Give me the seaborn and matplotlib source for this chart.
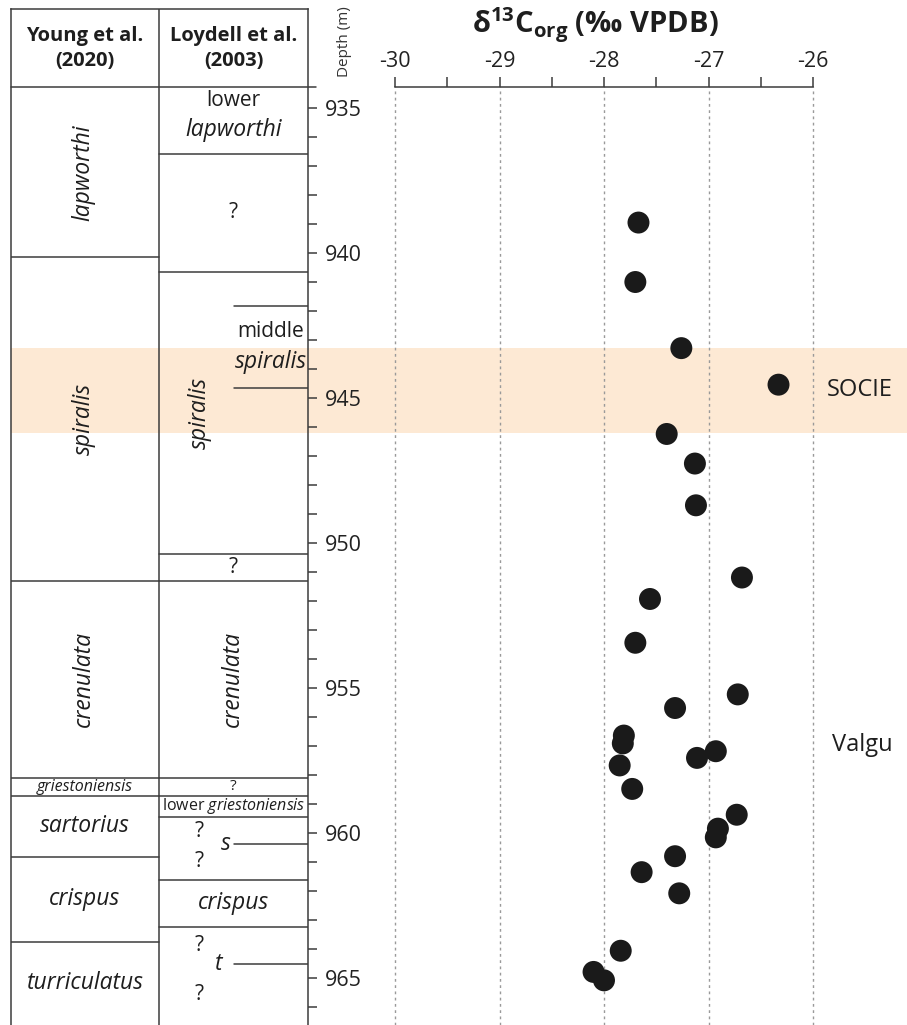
import matplotlib
matplotlib.use("Agg")
import matplotlib.pyplot as plt
from matplotlib.ticker import FixedLocator, MultipleLocator
import pandas as pd
import seaborn as sns

# carbon isotope samples
depth_m = [938.94, 940.99, 943.27, 944.53, 946.23, 947.25, 948.69, 951.18, 951.92,
           953.43, 955.21, 955.68, 956.63, 956.90, 957.17, 957.40, 957.66, 958.47,
           959.36, 959.84, 960.14, 960.79, 961.34, 962.07, 964.05, 964.78, 965.07]
d13c_org = [-27.67, -27.70, -27.26, -26.33, -27.40, -27.13, -27.12, -26.68, -27.56,
            -27.70, -26.72, -27.32, -27.81, -27.82, -26.93, -27.11, -27.85, -27.73,
            -26.73, -26.91, -26.93, -27.32, -27.64, -27.28, -27.84, -28.10, -28.00]

# biozone boundaries (m)
young_names = ["lapworthi", "spiralis", "crenulata", "griestoniensis",
               "sartorius", "crispus", "turriculatus"]
young_bounds = [940.14, 951.29, 958.10, 958.70, 960.81, 963.74]
loydell_bounds = [936.59, 940.63, 950.37, 951.29, 958.10, 958.70, 959.43, 961.62, 963.22]
loydell_inner = [941.82, 944.66, 960.38, 964.52]

socie_top, socie_base = 943.28, 946.21
x_ticks = [-30, -29, -28, -27, -26]

# ---- layout (pixel based) ----
W, H = 907, 1025
PX_PER_M = 29.0


def depth_at(py):
    return 935 + (py - 108.3) / PX_PER_M


def fx(px):
    return px / W


def fy(py):
    return 1 - py / H


sns.set_style("white")
plt.rcParams["font.family"] = ["Open Sans", "DejaVu Sans"]
plt.rcParams["mathtext.fontset"] = "custom"
plt.rcParams["mathtext.rm"] = "Open Sans"
plt.rcParams["mathtext.it"] = "Open Sans:italic"
plt.rcParams["mathtext.bf"] = "Open Sans:bold"

LC = "#3c3c3c"
TC = "#1e1e1e"
FS_IT = 16.5
FS_UP = 15

fig = plt.figure(figsize=(W / 100, H / 100), dpi=100)

d_bottom = depth_at(H)
d_axis = depth_at(87.3)
d_head = depth_at(9)

# band layer
ax_b = fig.add_axes([fx(11), 0, 1 - fx(11), fy(87.3)])
ax_b.set_ylim(d_bottom, d_axis)
ax_b.axhspan(socie_top, socie_base, color="#fde9d4", lw=0)
ax_b.set_axis_off()
ax_b.set_zorder(0)

# biozone table
ax_t = fig.add_axes([fx(11), 0, fx(308) - fx(11), fy(9)])
ax_t.set_zorder(2)
ax_t.patch.set_alpha(0)
ax_t.set_ylim(d_bottom, d_head)
ax_t.set_xlim(0, 1)
for s in ["left", "top", "right"]:
    ax_t.spines[s].set_color(LC)
    ax_t.spines[s].set_linewidth(1.1)
ax_t.spines["bottom"].set_visible(False)
ax_t.xaxis.set_visible(False)
ax_t.yaxis.tick_right()
ax_t.yaxis.set_major_locator(FixedLocator(list(range(935, 966, 5))))
ax_t.yaxis.set_minor_locator(FixedLocator([d for d in range(936, 967) if d % 5]))
ax_t.tick_params(axis="y", which="both", direction="out", length=6.3, width=1.1,
                 color=LC, labelsize=15.5, pad=6, labelcolor="#222222")

tr = ax_t.get_yaxis_transform()
mid = 148 / 297
inner = 223 / 297
ax_t.plot([0, 1.028], [d_axis, d_axis], color=LC, lw=1.1, transform=tr, clip_on=False)
ax_t.plot([mid, mid], [d_head, d_bottom], color=LC, lw=1.1, transform=tr)
for b in young_bounds:
    ax_t.plot([0, mid], [b, b], color=LC, lw=1.1, transform=tr)
for b in loydell_bounds:
    ax_t.plot([mid, 1], [b, b], color=LC, lw=1.1, transform=tr)
for b in loydell_inner:
    ax_t.plot([inner, 1], [b, b], color=LC, lw=1.1, transform=tr)

hy = (d_head + d_axis) / 2
ax_t.text(mid / 2, hy, "Young et al.\n(2020)", transform=tr, ha="center", va="center",
          fontsize=14.5, fontweight="bold", color=TC, linespacing=1.35)
ax_t.text((1 + mid) / 2, hy, "Loydell et al.\n(2003)", transform=tr, ha="center",
          va="center", fontsize=14.5, fontweight="bold", color=TC, linespacing=1.35)

# Young et al. zones
y_edges = [d_axis] + young_bounds + [d_bottom]
for i, name in enumerate(young_names):
    c = (y_edges[i] + y_edges[i + 1]) / 2
    rot = 90 if i < 3 else 0
    fs = 11.5 if name == "griestoniensis" else FS_IT
    ax_t.text(0.245 if rot else mid / 2, c, name, transform=tr, ha="center",
              va="center", rotation=rot, style="italic", fontsize=fs, color=TC)

# Loydell et al. zones
lc = (1 + mid) / 2
ax_t.text(lc, depth_at(101), "lower", transform=tr, ha="center", va="center",
          fontsize=FS_UP, color=TC)
ax_t.text(lc, depth_at(130), "lapworthi", transform=tr, ha="center", va="center",
          fontsize=FS_IT, style="italic", color=TC)
ax_t.text(lc, (loydell_bounds[0] + loydell_bounds[1]) / 2, "?", transform=tr,
          ha="center", va="center", fontsize=FS_UP, color=TC)
ax_t.text(0.636, (loydell_bounds[1] + loydell_bounds[2]) / 2, "spiralis", transform=tr,
          ha="center", va="center", rotation=90, fontsize=FS_IT, style="italic", color=TC)
ax_t.text(0.874, depth_at(331.7), "middle", transform=tr, ha="center", va="center",
          fontsize=FS_UP, color=TC)
ax_t.text(0.874, depth_at(361.7), "spiralis", transform=tr, ha="center", va="center",
          fontsize=FS_IT, style="italic", color=TC)
ax_t.text(lc, (loydell_bounds[2] + loydell_bounds[3]) / 2, "?", transform=tr,
          ha="center", va="center", fontsize=FS_UP, color=TC)
ax_t.text(0.747, (loydell_bounds[3] + loydell_bounds[4]) / 2, "crenulata", transform=tr,
          ha="center", va="center", rotation=90, fontsize=FS_IT, style="italic", color=TC)
ax_t.text(lc, (loydell_bounds[4] + loydell_bounds[5]) / 2, "?", transform=tr,
          ha="center", va="center", fontsize=11, color=TC)
ax_t.text(lc, (loydell_bounds[5] + loydell_bounds[6]) / 2, r"lower $\it{griestoniensis}$",
          transform=tr, ha="center", va="center", fontsize=11.5, color=TC)
ax_t.text(0.633, depth_at(832), "?", transform=tr, ha="center", va="center",
          fontsize=FS_UP, color=TC)
ax_t.text(0.633, depth_at(862), "?", transform=tr, ha="center", va="center",
          fontsize=FS_UP, color=TC)
ax_t.text(0.724, loydell_inner[2], "s", transform=tr, ha="center", va="center",
          fontsize=FS_IT, style="italic", color=TC)
ax_t.text(lc, (loydell_bounds[7] + loydell_bounds[8]) / 2, "crispus", transform=tr,
          ha="center", va="center", fontsize=FS_IT, style="italic", color=TC)
ax_t.text(0.633, depth_at(946), "?", transform=tr, ha="center", va="center",
          fontsize=FS_UP, color=TC)
ax_t.text(0.633, depth_at(995), "?", transform=tr, ha="center", va="center",
          fontsize=FS_UP, color=TC)
ax_t.text(0.70, loydell_inner[3], "t", transform=tr, ha="center", va="center",
          fontsize=FS_IT, style="italic", color=TC)

# isotope panel
ax_d = fig.add_axes([fx(395), 0, fx(813) - fx(395), fy(87.3)])
ax_d.set_zorder(3)
ax_d.patch.set_alpha(0)
df = pd.DataFrame({"depth": depth_m, "d13c": d13c_org})
sns.scatterplot(data=df, x="d13c", y="depth", ax=ax_d, s=250, color="#1a1a1a",
                edgecolor="none", zorder=4, clip_on=False)
ax_d.set_xlim(-30, -26)
ax_d.set_ylim(d_bottom, d_axis)
ax_d.xaxis.tick_top()
ax_d.set_xticks(x_ticks)
ax_d.set_xticklabels([str(v) for v in x_ticks])
ax_d.xaxis.set_minor_locator(MultipleLocator(0.5))
ax_d.tick_params(axis="x", which="both", direction="out", length=7, width=1.1,
                 color=LC, labelsize=15.5, pad=4, labelcolor="#222222")
ax_d.set_yticks([])
ax_d.set_xlabel("")
ax_d.set_ylabel("")
for s in ["left", "right", "bottom"]:
    ax_d.spines[s].set_visible(False)
ax_d.spines["top"].set_color(LC)
ax_d.spines["top"].set_linewidth(1.1)
for v in x_ticks:
    ax_d.axvline(v, color="#9a9a9a", lw=1.0, linestyle=(0, (2, 2.5)), zorder=1,
                 clip_on=False)

fig.text(fx(595), fy(25), r"$\mathbf{\delta^{13}C_{org}}$ (‰ VPDB)", ha="center",
         va="center", fontsize=21, fontweight="bold", color=TC)
fig.text(fx(344), fy(42), "Depth (m)", rotation=90, ha="center", va="center",
         fontsize=11, color="#333333")
fig.text(fx(860), fy(390), "SOCIE", ha="center", va="center", fontsize=17, color=TC)
fig.text(fx(862), fy(745), "Valgu", ha="center", va="center", fontsize=17, color=TC)

fig.savefig("out.png", dpi=100)
